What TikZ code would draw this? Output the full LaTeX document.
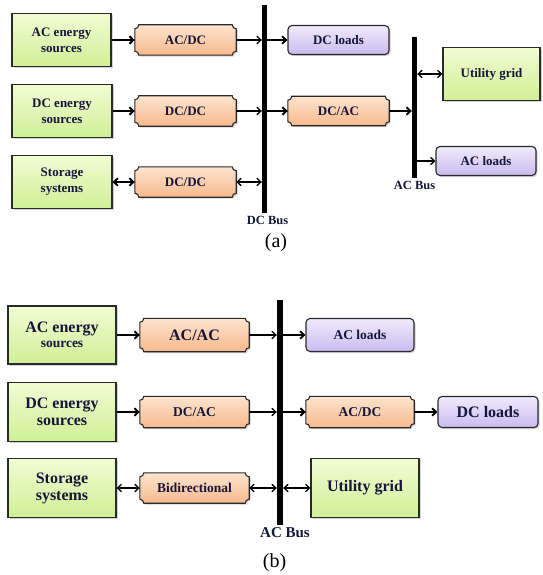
\documentclass[tikz,border=0pt]{standalone}
\usepackage{fontspec}
\setmainfont{Liberation Serif}
\usetikzlibrary{positioning,arrows.meta,shadows,calc,backgrounds}

\definecolor{grnT}{HTML}{F2FCD4}
\definecolor{grnB}{HTML}{CFEF96}
\definecolor{orT}{HTML}{FDE4CF}
\definecolor{orB}{HTML}{F7B98C}
\definecolor{puT}{HTML}{F0EBFC}
\definecolor{puB}{HTML}{C9BBEF}
\definecolor{ink}{HTML}{16163A}
\definecolor{edge}{HTML}{2A2A2A}

% converter outline: box with scooped corners
\newcommand{\plaque}[1]{($(#1.north west)+(4pt,0pt)$) -- ($(#1.north east)+(-4pt,0pt)$) arc[start angle=180,end angle=270,radius=4pt] -- ($(#1.south east)+(0pt,4pt)$) arc[start angle=90,end angle=180,radius=4pt] -- ($(#1.south west)+(4pt,0pt)$) arc[start angle=0,end angle=90,radius=4pt] -- ($(#1.north west)+(0pt,-4pt)$) arc[start angle=270,end angle=360,radius=4pt] -- cycle}

\tikzset{
  shad/.style={drop shadow={opacity=.35,shadow xshift=1.5pt,shadow yshift=-1.5pt}},
  src/.style={draw=edge,line width=1.1pt,top color=grnT,bottom color=grnB,shad,align=center,text=ink,inner sep=1pt},
  load/.style={draw=edge,line width=1.1pt,top color=puT,bottom color=puB,shad,rounded corners=4pt,align=center,text=ink,inner sep=1pt},
  cv/.style={inner sep=0pt,align=center,text=ink},
  conv/.style={draw=edge,line width=1.1pt,top color=orT,bottom color=orB,shad},
  bus/.style={fill=black,inner sep=0pt},
  buslbl/.style={inner sep=1pt,text=ink,font=\bfseries\fontsize{12.5}{13}\selectfont},
  fa/.style={font=\bfseries\fontsize{13}{16}\selectfont},
  fb/.style={font=\bfseries\fontsize{16}{17}\selectfont},
  fbs/.style={font=\bfseries\fontsize{13.5}{15}\selectfont},
  thk/.style={line width=1.9pt,-{Straight Barb[length=4pt,width=7.5pt]}},
  thn/.style={line width=1.3pt,-{Straight Barb[length=4pt,width=7.5pt]}},
  thkd/.style={line width=1.9pt,{Straight Barb[length=4pt,width=7.5pt]}-{Straight Barb[length=4pt,width=7.5pt]}},
  thnd/.style={line width=1.3pt,{Straight Barb[length=4pt,width=7.5pt]}-{Straight Barb[length=4pt,width=7.5pt]}},
}

\begin{document}
\begin{tikzpicture}[x=1pt,y=-1pt]
\useasboundingbox (0,0) rectangle (542,575);

% (a) DC bus system
\node[src,fa,minimum width=99,minimum height=53] (srcAa) at (61.5,40) {AC energy\\sources};
\node[src,fa,minimum width=100,minimum height=53] (srcDa) at (62,111) {DC energy\\sources};
\node[src,fa,minimum width=100,minimum height=53] (stoa) at (62,182) {Storage\\systems};
\node[cv,fa,minimum width=101,minimum height=30] (cva1) at (185.5,40) {AC/DC};
\node[cv,fa,minimum width=101,minimum height=30] (cva2) at (185.5,111) {DC/DC};
\node[cv,fa,minimum width=101,minimum height=30] (cva3) at (185.5,182) {DC/DC};
\node[bus,minimum width=5,minimum height=208] (dcbus) at (264.5,109) {};
\node[buslbl,below=2pt of dcbus,xshift=3pt] (dcbuslbl) {DC Bus};
\node[load,fa,minimum width=101,minimum height=29] (dcloada) at (338.5,40) {DC loads};
\node[cv,fa,minimum width=101,minimum height=29] (cva4) at (338.5,111) {DC/AC};
\node[bus,minimum width=5,minimum height=141] (acbusa) at (414.5,107.5) {};
\node[buslbl,below=2pt of acbusa] (acbusalbl) {AC Bus};
\node[src,fa,minimum width=97,minimum height=53] (grida) at (491.5,74) {Utility grid};
\node[load,fa,minimum width=100,minimum height=29] (acloada) at (486,161) {AC loads};
\node[font=\fontsize{20}{22}\selectfont] (capa) at (276,243) {(a)};

\draw[thk] (srcAa) -- (cva1);
\draw[thk] (srcDa) -- (cva2);
\draw[thkd] (stoa) -- (cva3);
\draw[thn] (cva1) -- (cva1 -| dcbus.west);
\draw[thn] (cva2) -- (cva2 -| dcbus.west);
\draw[thnd] (cva3) -- (cva3 -| dcbus.west);
\draw[thk] (dcbus.east |- dcloada) -- (dcloada);
\draw[thk] (dcbus.east |- cva4) -- (cva4);
\draw[thk] (cva4) -- (cva4 -| acbusa.west);
\draw[thnd] (acbusa.east |- grida) -- (grida);
\draw[thn] (acbusa.east |- acloada) -- (acloada);

% (b) AC bus system
\node[src,minimum width=108,minimum height=58,align=center] (srcAb) at (62,335) {\bfseries\fontsize{16}{18}\selectfont AC energy\\[3pt]\bfseries\fontsize{13.5}{15}\selectfont sources};
\node[src,fb,minimum width=108,minimum height=59] (srcDb) at (62,412) {DC energy\\sources};
\node[src,fb,minimum width=108,minimum height=59] (stob) at (62,488) {Storage\\systems};
\node[cv,fb,minimum width=109,minimum height=33] (cvb1) at (194.5,335) {AC/AC};
\node[cv,fbs,minimum width=109,minimum height=31] (cvb2) at (194.5,412) {DC/AC};
\node[cv,fbs,minimum width=109,minimum height=30] (cvb3) at (194.5,488) {Bidirectional};
\node[bus,minimum width=6,minimum height=225] (acbusb) at (280,412.5) {};
\node[buslbl,font=\bfseries\fontsize{15}{16}\selectfont,below=1pt of acbusb,xshift=5pt] (acbusblbl) {AC Bus};
\node[load,fbs,minimum width=108,minimum height=33] (acloadb) at (360,335) {AC loads};
\node[cv,fbs,minimum width=108,minimum height=31] (cvb4) at (360,412) {AC/DC};
\node[load,fb,minimum width=100,minimum height=31] (dcloadb) at (488,412) {DC loads};
\node[src,fb,minimum width=108,minimum height=59] (gridb) at (365,488) {Utility grid};
\node[font=\fontsize{20}{22}\selectfont] (capb) at (274.5,563) {(b)};

\draw[thk] (srcAb) -- (cvb1);
\draw[thk] (srcDb) -- (cvb2);
\draw[thnd] (stob) -- (cvb3);
\draw[thn] (cvb1) -- (cvb1 -| acbusb.west);
\draw[thn] (cvb2) -- (cvb2 -| acbusb.west);
\draw[thnd] (cvb3) -- (cvb3 -| acbusb.west);
\draw[thk] (acbusb.east |- acloadb) -- (acloadb);
\draw[thk] (acbusb.east |- cvb4) -- (cvb4);
\draw[thk] (cvb4) -- (dcloadb);
\draw[thnd] (acbusb.east |- gridb) -- (gridb);

\begin{scope}[on background layer]
\foreach \c in {cva1,cva2,cva3,cva4,cvb1,cvb2,cvb3,cvb4}
  \path[conv] \plaque{\c};
\end{scope}
\end{tikzpicture}
\end{document}
